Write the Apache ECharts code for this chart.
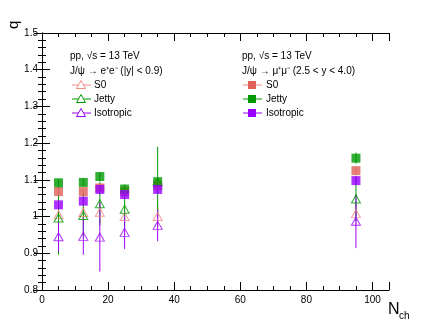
<!DOCTYPE html>
<html>
<head>
<meta charset="utf-8">
<script src="https://cdn.jsdelivr.net/npm/echarts@6/dist/echarts.min.js"></script>
<style>
html, body { margin: 0; padding: 0; background: #fff; }
#chart { width: 432px; height: 323px; }
</style>
</head>
<body>
<div id="chart"></div>
<script>
// N_ch bins
var nch = [5, 12.5, 17.5, 25, 35, 95];

// J/psi -> e+e- (|y| < 0.9), open triangles
var eeS0 = [1.005, 1.011, 1.012, 1.000, 1.000, 1.008];
var eeS0Err = [0.02, 0.02, 0.03, 0.02, 0.03, 0.03];
var eeJetty = [0.996, 1.003, 1.035, 1.020, 1.095, 1.048];
var eeJettyErr = [0.10, 0.06, 0.06, 0.05, 0.095, 0.06];
var eeIso = [0.945, 0.946, 0.944, 0.957, 0.976, 0.987];
var eeIsoErr = [0.04, 0.05, 0.094, 0.045, 0.043, 0.073];

// J/psi -> mu+mu- (2.5 < y < 4.0), full squares
var mmS0 = [1.068, 1.068, 1.078, 1.068, 1.085, 1.125];
var mmS0Err = [0.008, 0.008, 0.01, 0.01, 0.01, 0.01];
var mmJetty = [1.092, 1.093, 1.109, 1.075, 1.095, 1.159];
var mmJettyErr = [0.01, 0.01, 0.012, 0.012, 0.012, 0.015];
var mmIso = [1.032, 1.042, 1.074, 1.060, 1.074, 1.098];
var mmIsoErr = [0.01, 0.01, 0.012, 0.012, 0.012, 0.012];

var cS0 = '#e0605a', cS0Light = '#f08a84';
var cJetty = '#009900';
var cIso = '#9900ff';

function pts(vals) {
  return nch.map(function (x, i) { return [x, vals[i]]; });
}
function errs(vals, e) {
  return nch.map(function (x, i) { return [x, vals[i], e[i]]; });
}
function errSeries(vals, e, color) {
  return {
    type: 'custom',
    data: errs(vals, e),
    z: 2,
    silent: true,
    renderItem: function (params, api) {
      var lo = api.coord([api.value(0), api.value(1) - api.value(2)]);
      var hi = api.coord([api.value(0), api.value(1) + api.value(2)]);
      return {
        type: 'line',
        shape: { x1: lo[0], y1: lo[1], x2: hi[0], y2: hi[1] },
        style: { stroke: color, lineWidth: 1 }
      };
    }
  };
}
function openSeries(vals, color) {
  return {
    type: 'scatter', data: pts(vals), symbol: 'triangle', symbolSize: [9, 8], z: 3,
    itemStyle: { color: 'rgba(255,255,255,0)', borderColor: color, borderWidth: 1 }
  };
}
function fullSeries(vals, color) {
  return {
    type: 'scatter', data: pts(vals), symbol: 'rect', symbolSize: 9, z: 4,
    itemStyle: { color: color }
  };
}

var font = 'Liberation Sans, Arial, sans-serif';
var axisCommon = {
  axisLine: { lineStyle: { color: '#000', width: 1 } },
  axisTick: { inside: true, length: 8, lineStyle: { color: '#000' } },
  splitLine: { show: false }
};

// legend helpers (decoration only)
function legLine(x1, x2, y, color) {
  return { type: 'line', shape: { x1: x1, y1: y, x2: x2, y2: y }, style: { stroke: color, lineWidth: 1 } };
}
function legTri(cx, cy, color) {
  return { type: 'polygon', shape: { points: [[cx, cy - 4.5], [cx - 4.5, cy + 3.5], [cx + 4.5, cy + 3.5]] },
    style: { fill: '#fff', stroke: color, lineWidth: 1 } };
}
function legRect(cx, cy, color) {
  return { type: 'rect', shape: { x: cx - 4, y: cy - 4, width: 8, height: 8 }, style: { fill: color } };
}
function txt(x, y, s, size) {
  return { type: 'text', x: x, y: y, style: { text: s, font: (size || 10) + 'px ' + font, fill: '#000', textVerticalAlign: 'middle' } };
}

var legendGraphics = [
  txt(70, 56, 'pp, √s = 13 TeV'),
  txt(70, 71, 'J/ψ → e⁺e⁻ (|y| < 0.9)'),
  legLine(72, 91, 85, cS0Light), legTri(81, 85, cS0Light), txt(94, 85, 'S0'),
  legLine(72, 91, 99, cJetty), legTri(81, 99, cJetty), txt(94, 99, 'Jetty'),
  legLine(72, 91, 113, cIso), legTri(81, 113, cIso), txt(94, 113, 'Isotropic'),
  txt(242, 56, 'pp, √s = 13 TeV'),
  txt(242, 71, 'J/ψ → μ⁺μ⁻ (2.5 < y < 4.0)'),
  legLine(243, 262, 85, cS0Light), legRect(252, 85, cS0), txt(266, 85, 'S0'),
  legLine(243, 262, 99, cJetty), legRect(252, 99, cJetty), txt(266, 99, 'Jetty'),
  legLine(243, 262, 113, cIso), legRect(252, 113, cIso), txt(266, 113, 'Isotropic'),
  { type: 'text', x: 6, y: 29, rotation: Math.PI / 2,
    style: { text: 'q', font: '15px ' + font, fill: '#000' } },
  { type: 'text', x: 388, y: 310, style: { text: 'N', font: '16px ' + font, fill: '#000', textVerticalAlign: 'middle' } },
  { type: 'text', x: 399, y: 316, style: { text: 'ch', font: '10px ' + font, fill: '#000', textVerticalAlign: 'middle' } }
];

var chart = echarts.init(document.getElementById('chart'));
var xMinor = { show: true, splitNumber: 4, length: 4, lineStyle: { color: '#000' } };
var yMinor = { show: true, splitNumber: 5, length: 4, lineStyle: { color: '#000' } };
var option = {
  animation: false,
  backgroundColor: '#fff',
  grid: { left: 42, right: 43, top: 33, bottom: 33 },
  xAxis: [
    Object.assign({}, axisCommon, {
      type: 'value', min: 0, max: 105, interval: 20, minorTick: xMinor,
      axisLabel: { fontFamily: font, fontSize: 10, color: '#000', margin: 5,
        showMaxLabel: false, formatter: function (v) { return v > 100 ? '' : v; } }
    }),
    Object.assign({}, axisCommon, {
      type: 'value', min: 0, max: 105, interval: 20, position: 'top', minorTick: xMinor,
      axisLabel: { show: false }
    })
  ],
  yAxis: [
    Object.assign({}, axisCommon, {
      type: 'value', min: 0.8, max: 1.5, interval: 0.1, minorTick: yMinor,
      axisLabel: { fontFamily: font, fontSize: 10, color: '#000', margin: 4,
        formatter: function (v) { return Math.round(v * 10) / 10; } }
    }),
    Object.assign({}, axisCommon, {
      type: 'value', min: 0.8, max: 1.5, interval: 0.1, position: 'right', minorTick: yMinor,
      axisLabel: { show: false }
    })
  ],
  graphic: legendGraphics,
  series: [
    errSeries(eeS0, eeS0Err, cS0Light),
    errSeries(eeJetty, eeJettyErr, cJetty),
    errSeries(eeIso, eeIsoErr, cIso),
    errSeries(mmS0, mmS0Err, cS0Light),
    errSeries(mmJetty, mmJettyErr, cJetty),
    errSeries(mmIso, mmIsoErr, cIso),
    openSeries(eeS0, cS0Light),
    openSeries(eeJetty, cJetty),
    openSeries(eeIso, cIso),
    fullSeries(mmS0, cS0),
    fullSeries(mmJetty, cJetty),
    fullSeries(mmIso, cIso)
  ]
};
chart.setOption(option);
</script>
</body>
</html>
